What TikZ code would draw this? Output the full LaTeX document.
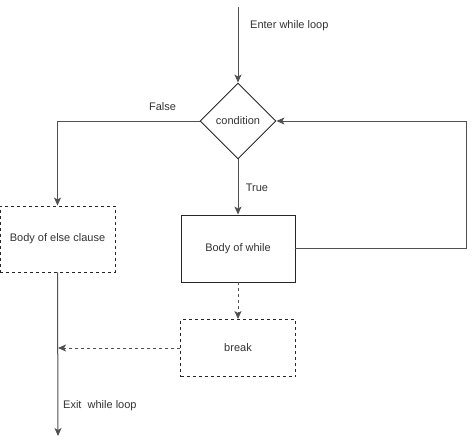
\documentclass[tikz,border=0pt]{standalone}
\usepackage{fontspec}
\setmainfont{Liberation Sans}
\usetikzlibrary{shapes.geometric,arrows.meta}
\definecolor{linec}{RGB}{80,80,80}
\definecolor{txtc}{RGB}{51,51,51}
\tikzset{
  conn/.style={draw=linec, line width=1pt, -{Stealth[length=8pt,width=7pt,inset=2pt]}},
  dconn/.style={conn, dash pattern=on 3pt off 3pt},
  plainbox/.style={draw=black!85, line width=0.9pt, rectangle, inner sep=0pt, text=txtc, font=\fontsize{11}{13}\selectfont},
  dashbox/.style={plainbox, dash pattern=on 3pt off 3pt},
  decision/.style={draw=black!85, line width=0.9pt, diamond, inner sep=0pt, minimum width=76pt, minimum height=76pt, text=txtc, font=\fontsize{11}{13}\selectfont},
  lbl/.style={text=txtc, font=\fontsize{11}{13}\selectfont, inner sep=0pt}
}
\begin{document}
\begin{tikzpicture}[x=1pt,y=-1pt]
\useasboundingbox (0,0) rectangle (474,442);
\node[decision] (cond) at (238,121) {condition};
\node[plainbox, minimum width=114pt, minimum height=67pt] (body) at (238,248.5) {Body of while};
\node[dashbox, minimum width=115pt, minimum height=66pt] (else) at (57.5,239) {Body of else clause};
\node[dashbox, minimum width=115pt, minimum height=57pt] (brk) at (238,348) {break};
\coordinate (start) at (238,7);
\coordinate (exitend) at (58,436);
\coordinate (brkend) at (58,348);
\coordinate (loopr) at (466,248.5);
\draw[conn] (start) -- (cond.north);
\draw[conn] (cond.west) -| (else.north);
\draw[conn] (cond.south) -- (body.north);
\draw[conn] (body.east) -- (loopr) |- (cond.east);
\draw[dconn] (body.south) -- (brk.north);
\draw[dconn] (brk.west) -- (brkend);
\draw[conn] (else.south) -- (exitend);
\node[lbl, anchor=west] (lenter) at (250,26) {Enter while loop};
\node[lbl] (lfalse) at (162.5,106.5) {False};
\node[lbl] (ltrue) at (257,187.5) {True};
\node[lbl, anchor=west] (lexit) at (63,406) {Exit\ \ while loop};
\end{tikzpicture}
\end{document}
